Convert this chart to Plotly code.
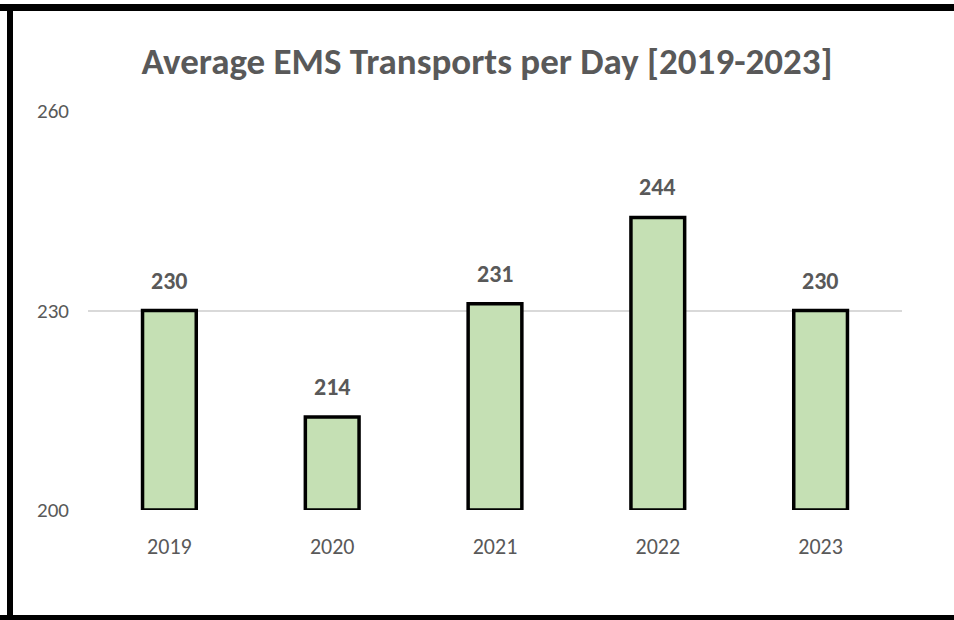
import plotly.graph_objects as go

# Average daily EMS transports by year
years = ["2019", "2020", "2021", "2022", "2023"]
avg_transports = [230, 214, 231, 244, 230]
y_ticks = [200, 230, 260]

axis_floor = 200
bar_heights = [v - axis_floor for v in avg_transports]

FONT = "Carlito, 'Liberation Sans Narrow', 'Open Sans', sans-serif"
TEXT_GREY = "#595959"

fig = go.Figure()
fig.add_trace(go.Bar(
    x=years,
    y=bar_heights,
    base=axis_floor,
    marker=dict(color="#C5E0B4", line=dict(color="black", width=3.5)),
    width=0.33,
    customdata=avg_transports,
    hovertemplate="%{x}: %{customdata}<extra></extra>",
))

# value labels above each bar (category axis positions are indices)
for i, v in enumerate(avg_transports):
    fig.add_annotation(
        x=i, y=v, text=f"<b>{v}</b>", showarrow=False,
        yanchor="bottom", yshift=14,
        font=dict(family=FONT, size=24, color=TEXT_GREY),
    )

# frame around the chart (pixel positions converted to paper units)
L, R, T, B = 88, 902, 111, 510
W, H = R - L, B - T
def px(x):
    return (x - L) / W
def py(y):
    return (B - y) / H

frame = [
    (0, 4, 954, 11),     # top
    (7, 4, 13, 620),     # left
    (0, 615, 954, 620),  # bottom
]
for x0, y0, x1, y1 in frame:
    fig.add_shape(type="rect", xref="paper", yref="paper",
                  x0=px(x0), x1=px(x1), y0=py(y1), y1=py(y0),
                  fillcolor="black", line=dict(width=0), layer="above")

fig.update_layout(
    width=954, height=620,
    margin=dict(l=L, r=954 - R, t=T, b=620 - B, pad=0),
    paper_bgcolor="white", plot_bgcolor="white",
    showlegend=False,
    title=dict(
        text="<b>Average EMS Transports per Day [2019-2023]</b>",
        x=487 / 954, xanchor="center", xref="container",
        y=1 - 61 / 620, yanchor="middle", yref="container",
        font=dict(family=FONT, size=37, color=TEXT_GREY),
    ),
    xaxis=dict(
        type="category", categoryorder="array", categoryarray=years,
        range=[-0.5, len(years) - 0.5],
        showgrid=False, showline=False, zeroline=False,
        ticks="", ticklabelstandoff=21,
        tickfont=dict(family=FONT, size=22, color=TEXT_GREY),
    ),
    yaxis=dict(
        range=[200, 260], tickvals=y_ticks,
        showgrid=True, gridcolor="#D9D9D9", gridwidth=2,
        zeroline=False, showline=False, ticks="",
        ticklabelstandoff=18,
        tickfont=dict(family=FONT, size=21, color=TEXT_GREY),
    ),
)

fig.write_html("out.html")
